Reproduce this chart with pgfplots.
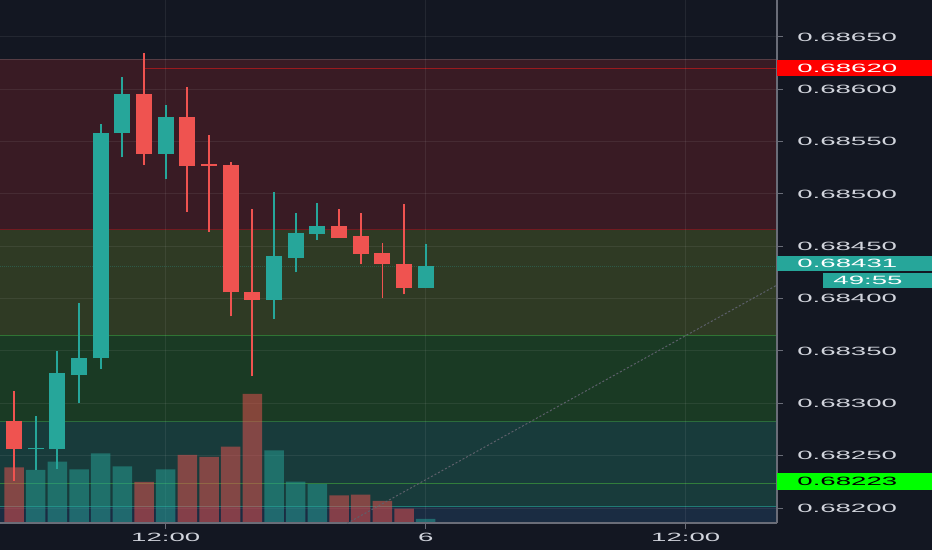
\documentclass[border=0pt]{standalone}
\usepackage{pgfplots}
\pgfplotsset{compat=1.18}
\usepackage{pgfplotstable}
\usepackage{fontspec}
\setmainfont{Liberation Sans}

\definecolor{bgc}{HTML}{131722}
\definecolor{zred}{HTML}{391B24}
\definecolor{zolive}{HTML}{2F3A24}
\definecolor{zgreen}{HTML}{1A3A24}
\definecolor{zteal}{HTML}{183B3B}
\definecolor{zblue}{HTML}{1A2C42}
\definecolor{upc}{HTML}{26A69A}
\definecolor{dnc}{HTML}{EF5350}
\definecolor{axgray}{HTML}{6A6D78}
\definecolor{txt}{HTML}{D1D4DC}
\definecolor{trend}{HTML}{5D606B}
\definecolor{lvlred}{HTML}{B71C1C}
\definecolor{toplvl}{HTML}{9A1A1E}
\definecolor{lvlgreen}{HTML}{388E3C}
\definecolor{boxred}{HTML}{FF0000}
\definecolor{boxgreen}{HTML}{00FF00}

% hourly candles, t = hours from 12:00 (day 5)
\pgfplotstableread{
t  o        h        l        c
-6 0.68256  0.68288  0.68236  0.68257
-5 0.68256  0.68350  0.68237  0.68328
-4 0.68327  0.68396  0.68300  0.68343
-3 0.68343  0.68567  0.68333  0.68558
-2 0.68558  0.68612  0.68535  0.68595
0  0.68538  0.68585  0.68514  0.68573
5  0.68399  0.68502  0.68381  0.68440
6  0.68439  0.68482  0.68425  0.68462
7  0.68462  0.68491  0.68456  0.68469
12 0.68410  0.68452  0.68410  0.68431
}\upt
\pgfplotstableread{
t  o        h        l        c
-7 0.68283  0.68312  0.68226  0.68256
-1 0.68595  0.68635  0.68528  0.68538
1  0.68573  0.68602  0.68483  0.68527
2  0.68528  0.68556  0.68464  0.68527
3  0.68527  0.68531  0.68383  0.68406
4  0.68406  0.68486  0.68326  0.68399
8  0.68469  0.68486  0.68458  0.68458
9  0.68459  0.68482  0.68433  0.68443
10 0.68443  0.68453  0.68401  0.68433
11 0.68433  0.68490  0.68404  0.68410
}\dnt
\pgfplotstableread{
t  v
-6 53.3
-5 61.6
-4 54
-3 70
-2 57
0  54
5  73
6  41.6
7  39.3
12 4.3
}\upv
\pgfplotstableread{
t  v
-7 56
-1 41.3
1  68.3
2  66.3
3  76.6
4  129.3
8  28
9  28.6
10 22.3
11 14.6
}\dnv

\tikzset{lbl/.style={font=\fontsize{12bp}{14bp}\selectfont, xscale=2.3, inner sep=0pt}}
\pgfplotsset{
  common/.style={at={(0bp,26.7bp)}, anchor=south west, scale only axis,
    width=777bp, height=523.3bp, xmin=-7.647, xmax=28.21},
  price/.style={common, ymin=0.681854, ymax=0.686853},
}

\begin{document}
\begin{tikzpicture}
\fill[bgc] (0,0) rectangle (932bp,550bp);
\useasboundingbox (0,0) rectangle (932bp,550bp);

% ---- Axis A: zones, grid, levels
\begin{axis}[price, axis on top,
  axis line style={draw=none}, tick style={draw=none},
  xtick={0,12,24}, ytick={0.682,0.6825,0.683,0.6835,0.684,0.6845,0.685,0.6855,0.686,0.6865},
  xticklabels={}, yticklabels={},
  grid=major, major grid style={white, opacity=0.07, line width=1bp}]
\addplot[fill=zred, draw=none] coordinates {(-8,0.686287) (29,0.686287) (29,0.684656) (-8,0.684656)} -- cycle;
\addplot[fill=zolive, draw=none] coordinates {(-8,0.684656) (29,0.684656) (29,0.683650) (-8,0.683650)} -- cycle;
\addplot[fill=zgreen, draw=none] coordinates {(-8,0.683650) (29,0.683650) (29,0.682831) (-8,0.682831)} -- cycle;
\addplot[fill=zteal, draw=none] coordinates {(-8,0.682831) (29,0.682831) (29,0.682014) (-8,0.682014)} -- cycle;
\addplot[fill=zblue, draw=none] coordinates {(-8,0.682014) (29,0.682014) (29,0.681854) (-8,0.681854)} -- cycle;
\addplot[color=white, opacity=0.15, line width=1bp] coordinates {(-8,0.686287) (29,0.686287)};
\addplot[color=lvlred, opacity=0.45, line width=1bp] coordinates {(-8,0.684656) (29,0.684656)};
\addplot[color=lvlgreen, opacity=0.7, line width=1bp] coordinates {(-8,0.683650) (29,0.683650)};
\addplot[color=lvlgreen, opacity=0.6, line width=1bp] coordinates {(-8,0.682831) (29,0.682831)};
\addplot[color=upc, opacity=0.6, line width=1bp] coordinates {(-8,0.682014) (29,0.682014)};
\addplot[color=lvlgreen, opacity=0.8, line width=1bp] coordinates {(-8,0.68223) (29,0.68223)};
\addplot[color=toplvl, line width=1bp] coordinates {(-1.03,0.68620) (29,0.68620)};
\addplot[color=upc, opacity=0.3, line width=1bp, dash pattern=on 1bp off 1bp] coordinates {(-8,0.68431) (29,0.68431)};
\end{axis}

% ---- Axis B: volume
\begin{axis}[common, ymin=0, ymax=523.3, hide axis]
\addplot[ybar, bar width=19.5bp, bar shift=0pt, draw=none, fill=upc, fill opacity=0.5] table[x=t, y=v] \upv;
\addplot[ybar, bar width=19.5bp, bar shift=0pt, draw=none, fill=dnc, fill opacity=0.5] table[x=t, y=v] \dnv;
\end{axis}

% ---- Axis C: candles, axes, labels
\begin{axis}[price, clip=false,
  axis x line*=bottom, axis y line*=right,
  axis line style={draw=axgray, line width=2bp},
  tick style={draw=axgray, line width=1bp}, tick align=outside, major tick length=6bp,
  xtick={0,12,24}, xticklabels={12:00,6,12:00},
  ytick={0.682,0.6825,0.683,0.6835,0.684,0.6845,0.685,0.6855,0.686,0.6865},
  yticklabels={0.68200,0.68250,0.68300,0.68350,0.68400,0.68450,0.68500,0.68550,0.68600,0.68650},
  yticklabel style={lbl, text=txt, anchor=west, xshift=6bp},
  xticklabel style={lbl, text=txt, anchor=north, yshift=-4bp},
  ]
% trend line
\addplot[color=trend, line width=1bp, dash pattern=on 2bp off 2bp] coordinates {(8.37,0.681854) (28.21,0.684130)};
% wicks
\addplot[mark=none, draw=none, error bars/.cd, y dir=plus, y explicit, error mark=none,
  error bar style={draw=upc, line width=1.8bp}] table[x=t, y=l, y error expr=\thisrow{h}-\thisrow{l}] \upt;
\addplot[mark=none, draw=none, error bars/.cd, y dir=plus, y explicit, error mark=none,
  error bar style={draw=dnc, line width=1.8bp}] table[x=t, y=l, y error expr=\thisrow{h}-\thisrow{l}] \dnt;
% bodies
\addplot[mark=none, draw=none, error bars/.cd, y dir=plus, y explicit, error mark=none,
  error bar style={draw=upc, line width=16bp}] table[x=t, y=o, y error expr=\thisrow{c}-\thisrow{o}+0.000005] \upt;
\addplot[mark=none, draw=none, error bars/.cd, y dir=plus, y explicit, error mark=none,
  error bar style={draw=dnc, line width=16bp}] table[x=t, y=c, y error expr=\thisrow{o}-\thisrow{c}+0.000005] \dnt;
% price boxes
\node[fill=boxred, anchor=west, minimum width=155bp, minimum height=16bp, inner sep=0pt] at (axis cs:28.21,0.68620) {};
\node[lbl, text=white, anchor=west] at ([xshift=20bp]axis cs:28.21,0.68620) {0.68620};
\node[fill=upc, anchor=west, minimum width=155bp, minimum height=15bp, inner sep=0pt] at (axis cs:28.21,0.68434) {};
\node[lbl, text=white, anchor=west] at ([xshift=20bp]axis cs:28.21,0.68434) {0.68431};
\node[fill=upc, anchor=west, minimum width=109bp, minimum height=15bp, inner sep=0pt] at ([xshift=46bp]axis cs:28.21,0.684174) {};
\node[lbl, text=white, anchor=west] at ([xshift=56bp]axis cs:28.21,0.684174) {49:55};
\node[fill=boxgreen, anchor=west, minimum width=155bp, minimum height=17bp, inner sep=0pt] at (axis cs:28.21,0.68225) {};
\node[lbl, text=black, anchor=west] at ([xshift=20bp]axis cs:28.21,0.68225) {0.68223};
\end{axis}
\end{tikzpicture}
\end{document}
